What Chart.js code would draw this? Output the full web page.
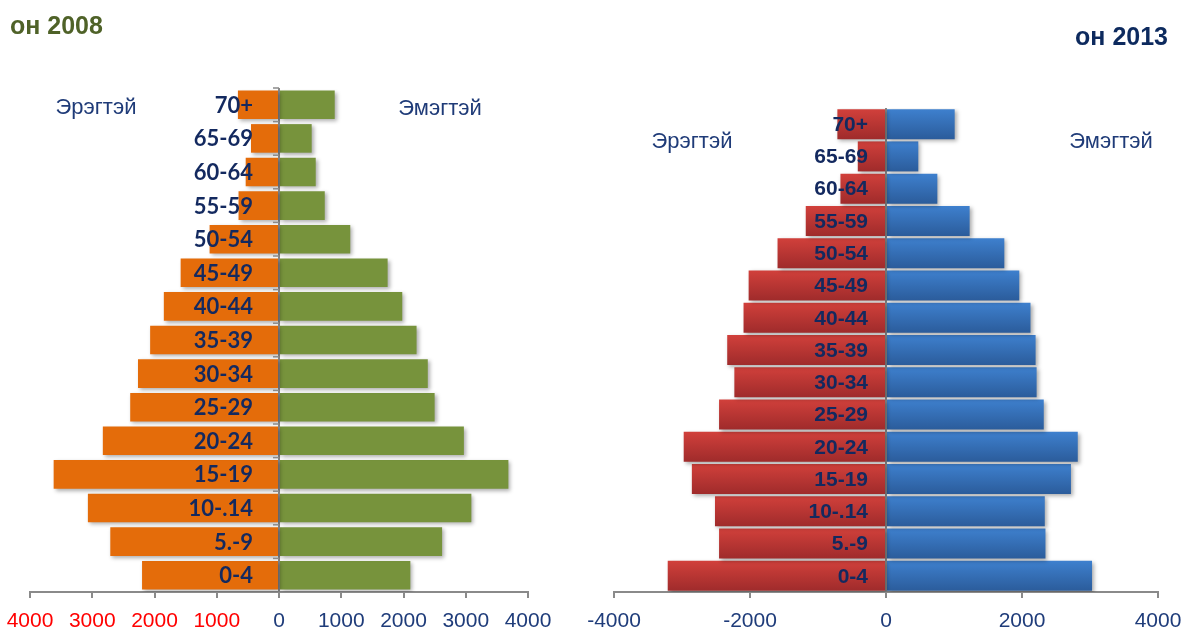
<!DOCTYPE html>
<html>
<head>
<meta charset="utf-8">
<script src="https://cdn.jsdelivr.net/npm/chart.js@4/dist/chart.umd.min.js"></script>
<style>
  html, body { margin: 0; padding: 0; background: #fff; }
  body { width: 1181px; height: 629px; position: relative; overflow: hidden; font-family: "Liberation Sans", Arial, sans-serif; }
  .wrap { position: absolute; top: 0; }
  .txt { position: absolute; white-space: nowrap; line-height: 1; }
</style>
</head>
<body>
<div class="wrap" style="left:-30px;width:620px;height:629px;"><canvas id="c1" width="620" height="629"></canvas></div>
<div class="wrap" style="left:560px;width:660px;height:629px;"><canvas id="c2" width="660" height="629"></canvas></div>

<div class="txt" style="left:10px;top:25px;transform:translateY(-50%);font:bold 25px 'Liberation Sans';color:#4f6228;">он 2008</div>
<div class="txt" style="right:13px;top:36px;transform:translateY(-50%);font:bold 25px 'Liberation Sans';color:#0d2a5e;">он 2013</div>

<div class="txt" style="left:96px;top:107px;transform:translate(-50%,-50%);font:22px 'Liberation Sans';color:#1f3b78;">Эрэгтэй</div>
<div class="txt" style="left:440px;top:108px;transform:translate(-50%,-50%);font:22px 'Liberation Sans';color:#1f3b78;">Эмэгтэй</div>
<div class="txt" style="left:692px;top:141px;transform:translate(-50%,-50%);font:22px 'Liberation Sans';color:#1f3b78;">Эрэгтэй</div>
<div class="txt" style="left:1111px;top:141px;transform:translate(-50%,-50%);font:22px 'Liberation Sans';color:#1f3b78;">Эмэгтэй</div>

<script>
// ---- data (age groups from youngest to oldest) ----
const ageGroups = ['0-4', '5.-9', '10-.14', '15-19', '20-24', '25-29', '30-34', '35-39', '40-44', '45-49', '50-54', '55-59', '60-64', '65-69', '70+'];

// 2008
const males2008   = [2200, 2710, 3070, 3620, 2830, 2390, 2265, 2070, 1850, 1580, 1115, 650, 535, 450, 660];
const females2008 = [2110, 2620, 3090, 3685, 2970, 2500, 2390, 2210, 1980, 1745, 1145, 735, 590, 525, 895];

// 2013
const males2013   = [3210, 2455, 2515, 2855, 2975, 2455, 2230, 2335, 2095, 2020, 1595, 1180, 670, 415, 715];
const females2013 = [3030, 2345, 2335, 2720, 2820, 2320, 2215, 2200, 2125, 1960, 1740, 1230, 755, 475, 1010];

const ticks2008 = { min: -4000, max: 4000, step: 1000 };
const ticks2013 = { min: -4000, max: 4000, step: 2000 };

const NAVY = '#13295f';
const AXIS_GRAY = '#8a8a8a';

// shadow under bars
const shadowPlugin = {
  id: 'barShadow',
  beforeDatasetsDraw(chart) {
    const c = chart.ctx;
    c.save();
    c.shadowColor = 'rgba(0,0,0,0.32)';
    c.shadowBlur = 4;
    c.shadowOffsetX = 2;
    c.shadowOffsetY = 2;
  },
  afterDatasetsDraw(chart) {
    chart.ctx.restore();
  }
};

// category labels drawn over the bars, right-aligned left of the zero line
function labelPlugin(offset, font, drawTicks) {
  return {
    id: 'catLabels',
    afterDraw(chart) {
      const c = chart.ctx;
      const xs = chart.scales.x, ys = chart.scales.y;
      const x0 = xs.getPixelForValue(0);
      c.save();
      if (drawTicks) {
        c.strokeStyle = AXIS_GRAY;
        c.lineWidth = 1.5;
        const n = chart.data.labels.length;
        const half = Math.abs(ys.getPixelForValue(1) - ys.getPixelForValue(0)) / 2;
        for (let i = 0; i < n; i++) {
          const yb = ys.getPixelForValue(i) - half;
          c.beginPath();
          c.moveTo(x0 - 6, yb);
          c.lineTo(x0, yb);
          c.stroke();
        }
      }
      c.fillStyle = NAVY;
      c.font = font;
      c.textAlign = 'right';
      c.textBaseline = 'middle';
      chart.data.labels.forEach((lab, i) => {
        c.fillText(lab, x0 - offset, ys.getPixelForValue(i) + 1);
      });
      c.restore();
    }
  };
}

function gradientFill(top, bottom, pct) {
  return (ctx) => {
    const chart = ctx.chart;
    const ys = chart.scales.y;
    if (!chart.chartArea || !ys || ctx.dataIndex === undefined) return top;
    const cy = ys.getPixelForValue(ctx.dataIndex);
    const half = Math.abs(ys.getPixelForValue(1) - ys.getPixelForValue(0)) * pct / 2;
    const g = chart.ctx.createLinearGradient(0, cy - half, 0, cy + half);
    g.addColorStop(0, top);
    g.addColorStop(1, bottom);
    return g;
  };
}

function makeChart(id, opts) {
  return new Chart(document.getElementById(id), {
    type: 'bar',
    data: {
      labels: ageGroups,
      datasets: [
        { label: 'Эрэгтэй', data: opts.left.map(v => -v), backgroundColor: opts.leftColor,
          barPercentage: opts.pct, categoryPercentage: 1, borderWidth: 0 },
        { label: 'Эмэгтэй', data: opts.right, backgroundColor: opts.rightColor,
          barPercentage: opts.pct, categoryPercentage: 1, borderWidth: 0 }
      ]
    },
    options: {
      indexAxis: 'y',
      responsive: false,
      animation: false,
      devicePixelRatio: 1,
      layout: { padding: opts.padding },
      plugins: { legend: { display: false }, tooltip: { enabled: false } },
      scales: {
        y: {
          type: 'category',
          stacked: true,
          reverse: true,
          display: false,
          offset: true,
          grid: { display: false }
        },
        x: {
          stacked: true,
          min: opts.ticks.min,
          max: opts.ticks.max,
          z: 1,
          afterFit(scale) { scale.height = 37; },
          border: { display: true, color: AXIS_GRAY, width: 2 },
          grid: {
            drawOnChartArea: true,
            color: (c) => (c.tick && c.tick.value === 0) ? AXIS_GRAY : 'rgba(0,0,0,0)',
            lineWidth: 2,
            tickColor: AXIS_GRAY,
            tickLength: 6,
            tickWidth: 2
          },
          ticks: {
            stepSize: opts.ticks.step,
            padding: 11,
            autoSkip: false,
            maxRotation: 0,
            font: { family: 'Liberation Sans', size: 21 },
            color: opts.tickColor,
            callback: opts.tickFormat
          }
        }
      }
    },
    plugins: [shadowPlugin, labelPlugin(opts.labelOffset, opts.labelFont, opts.catTicks)]
  });
}

// left canvas starts at x=-30: chart area 30..528 on the page
makeChart('c1', {
  left: males2008, right: females2008,
  leftColor: '#e46c0a', rightColor: '#77933c',
  pct: 0.85,
  padding: { left: 60, right: 62, top: 88, bottom: 0 },
  ticks: ticks2008,
  tickColor: (c) => (c.tick && c.tick.value < 0) ? '#ff0000' : '#1f3c7a',
  tickFormat: (v) => String(Math.abs(v)),
  labelOffset: 26,
  labelFont: 'bold 22px Lato',
  catTicks: true
});

// right canvas starts at x=560: chart area 614..1158 on the page
makeChart('c2', {
  left: males2013, right: females2013,
  leftColor: gradientFill('#d1403b', '#9f2b2b', 0.93),
  rightColor: gradientFill('#3e80ce', '#2b5c9b', 0.93),
  pct: 0.93,
  padding: { left: 54, right: 62, top: 108, bottom: 0 },
  ticks: ticks2013,
  tickColor: '#1f3c7a',
  tickFormat: (v) => String(v),
  labelOffset: 18,
  labelFont: 'bold 21px "Liberation Sans"',
  catTicks: false
});
</script>
</body>
</html>
